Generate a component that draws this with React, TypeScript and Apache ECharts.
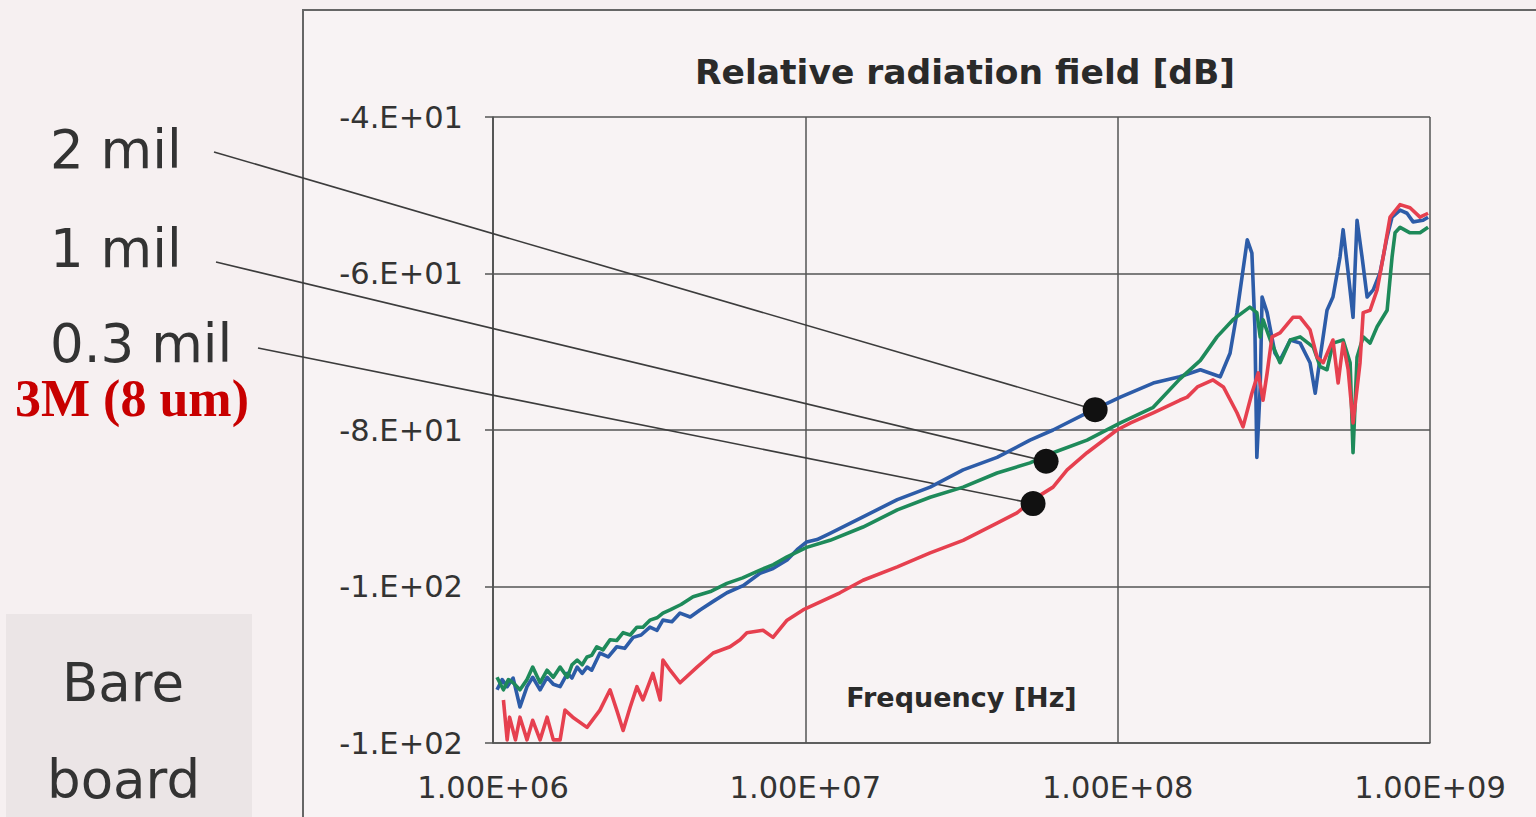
import React, { useEffect, useRef } from "react";
import * as echarts from "echarts";

// Axis ranges
const Y_MIN = -120;
const Y_MAX = -40;
const Y_STEP = 20;
const X_MIN = 1e6;
const X_MAX = 1e9;

const chartTitle = "Relative radiation field [dB]";
const xAxisName = "Frequency [Hz]";

// Measured radiation curves: [frequency Hz, relative field dB]
const twoMil: [number, number][] = [
  [1.03e6, -113.2], [1.07e6, -111.9], [1.11e6, -112.8], [1.16e6, -111.7], [1.22e6, -115.4],
  [1.285e6, -112.8], [1.34e6, -111.6], [1.415e6, -113.2], [1.49e6, -111.6], [1.56e6, -112.5],
  [1.64e6, -112.8], [1.73e6, -111.1], [1.79e6, -111.7], [1.86e6, -110.3], [1.93e6, -111.1],
  [2.0e6, -110.3], [2.07e6, -110.7], [2.2e6, -108.5], [2.34e6, -109.0], [2.49e6, -107.7],
  [2.64e6, -107.9], [2.81e6, -106.5], [2.98e6, -106.2], [3.18e6, -105.2], [3.35e6, -105.6],
  [3.5e6, -104.3], [3.74e6, -104.5], [3.97e6, -103.4], [4.28e6, -103.9], [4.6e6, -103.0],
  [5.07e6, -101.9], [5.61e6, -100.8], [6.32e6, -99.9], [7.16e6, -98.3], [7.88e6, -97.7],
  [8.74e6, -96.6], [9.41e6, -95.3], [1.01e7, -94.3], [1.09e7, -94.0], [1.2e7, -93.2],
  [1.53e7, -91.1], [1.97e7, -88.9], [2.51e7, -87.3], [3.2e7, -85.1], [4.11e7, -83.5],
  [5.24e7, -81.3], [6.21e7, -80.0], [7.98e7, -77.8], [1.02e8, -75.8], [1.3e8, -74.0],
  [1.58e8, -73.2], [1.84e8, -72.3], [2.13e8, -73.2], [2.29e8, -70.2], [2.41e8, -65.0],
  [2.6e8, -55.7], [2.69e8, -57.4], [2.75e8, -66.8], [2.79e8, -83.5], [2.86e8, -74.5],
  [2.9e8, -63.0], [3.01e8, -65.0], [3.19e8, -70.2], [3.31e8, -71.1], [3.57e8, -68.5],
  [3.84e8, -68.9], [4.13e8, -71.4], [4.29e8, -75.3], [4.45e8, -70.7], [4.68e8, -64.7],
  [4.89e8, -63.0], [5.15e8, -57.9], [5.27e8, -54.4], [5.47e8, -59.9], [5.67e8, -65.6],
  [5.84e8, -53.2], [6.06e8, -57.9], [6.29e8, -63.0], [6.58e8, -62.1], [6.92e8, -59.9],
  [7.29e8, -55.3], [7.56e8, -52.8], [8.02e8, -51.9], [8.44e8, -52.3], [8.83e8, -53.4],
  [9.5e8, -53.2], [9.86e8, -52.8],
];

const oneMil: [number, number][] = [
  [1.03e6, -111.6], [1.08e6, -113.2], [1.12e6, -111.9], [1.16e6, -112.3], [1.22e6, -113.2],
  [1.285e6, -111.9], [1.34e6, -110.3], [1.415e6, -112.3], [1.49e6, -110.7], [1.56e6, -111.6],
  [1.64e6, -110.3], [1.73e6, -111.6], [1.79e6, -110.0], [1.86e6, -109.4], [1.93e6, -110.0],
  [2.0e6, -109.0], [2.07e6, -108.8], [2.15e6, -107.7], [2.25e6, -108.1], [2.37e6, -106.8],
  [2.49e6, -106.9], [2.61e6, -105.9], [2.75e6, -106.2], [2.89e6, -105.2], [3.02e6, -105.2],
  [3.18e6, -104.3], [3.35e6, -104.0], [3.5e6, -103.4], [3.69e6, -103.0], [4.0e6, -102.3],
  [4.37e6, -101.3], [5.0e6, -100.6], [5.61e6, -99.6], [6.3e6, -98.9], [7.16e6, -97.9],
  [7.9e6, -97.2], [8.74e6, -96.2], [1.01e7, -95.0], [1.2e7, -94.1], [1.53e7, -92.4],
  [1.97e7, -90.2], [2.51e7, -88.6], [3.2e7, -87.3], [4.11e7, -85.5], [5.24e7, -84.2],
  [6.21e7, -82.9], [7.98e7, -81.3], [1.02e8, -79.1], [1.3e8, -77.1], [1.58e8, -73.5],
  [1.84e8, -71.1], [2.08e8, -68.1], [2.34e8, -65.9], [2.65e8, -64.3], [2.79e8, -65.0],
  [2.86e8, -68.1], [2.92e8, -65.9], [3.08e8, -68.5], [3.31e8, -71.4], [3.57e8, -68.5],
  [3.84e8, -68.1], [4.23e8, -69.4], [4.45e8, -71.9], [4.68e8, -72.3], [4.89e8, -68.9],
  [5.27e8, -68.5], [5.55e8, -71.4], [5.67e8, -82.9], [5.84e8, -70.7], [6.11e8, -68.1],
  [6.43e8, -68.9], [6.77e8, -66.8], [7.29e8, -64.7], [7.56e8, -57.9], [7.73e8, -54.8],
  [8.02e8, -54.1], [8.63e8, -54.8], [9.29e8, -54.8], [9.86e8, -54.1],
];

const pointThreeMil: [number, number][] = [
  [1.08e6, -114.5], [1.11e6, -119.6], [1.13e6, -116.7], [1.18e6, -119.6], [1.22e6, -116.7],
  [1.285e6, -119.6], [1.34e6, -117.1], [1.415e6, -119.6], [1.49e6, -116.7], [1.56e6, -119.6],
  [1.64e6, -119.6], [1.7e6, -115.8], [1.8e6, -116.7], [2.0e6, -118.0], [2.2e6, -115.8],
  [2.37e6, -113.2], [2.49e6, -115.8], [2.61e6, -118.4], [2.75e6, -115.4], [2.89e6, -112.8],
  [3.02e6, -114.5], [3.25e6, -111.1], [3.43e6, -114.5], [3.5e6, -109.4], [3.69e6, -110.7],
  [3.97e6, -112.3], [4.5e6, -110.3], [5.07e6, -108.5], [5.74e6, -107.7], [6.18e6, -106.8],
  [6.5e6, -105.9], [7.32e6, -105.6], [7.88e6, -106.5], [8.74e6, -104.3], [9.83e6, -103.0],
  [1.29e7, -100.8], [1.53e7, -99.2], [1.97e7, -97.5], [2.51e7, -95.7], [3.2e7, -94.1],
  [4.11e7, -91.9], [4.76e7, -90.6], [5.36e7, -88.9], [6.21e7, -87.3], [6.89e7, -85.1],
  [7.98e7, -82.9], [9.95e7, -80.0], [1.1e8, -79.1], [1.3e8, -77.8], [1.58e8, -76.2],
  [1.67e8, -75.8], [1.8e8, -74.5], [2.02e8, -73.6], [2.18e8, -74.5], [2.41e8, -77.8],
  [2.52e8, -79.6], [2.69e8, -75.3], [2.82e8, -72.7], [2.92e8, -76.2], [3.01e8, -72.7],
  [3.12e8, -68.1], [3.31e8, -67.6], [3.64e8, -65.6], [3.84e8, -65.6], [4.13e8, -67.2],
  [4.35e8, -70.7], [4.55e8, -71.4], [4.89e8, -68.5], [5.08e8, -74.0], [5.27e8, -68.9],
  [5.47e8, -72.3], [5.67e8, -79.1], [5.97e8, -71.4], [6.11e8, -65.0], [6.43e8, -64.7],
  [6.77e8, -62.1], [7.08e8, -57.9], [7.45e8, -52.8], [8.02e8, -51.2], [8.63e8, -51.6],
  [9.29e8, -52.8], [9.86e8, -52.3],
];

// Call-out dots on each curve (2 mil, 1 mil, 0.3 mil)
const calloutPoints: [number, number][] = [
  [8.47e7, -77.4],
  [5.9e7, -84.0],
  [5.36e7, -89.4],
];
const calloutLabels = ["2 mil", "1 mil", "0.3 mil"];

const curveColors = ["#2d5ca8", "#1e8a5a", "#e6404f"];

// Layout of the left-hand labels (pixel positions)
const labelPos = [
  { x: 50, y: 149 },
  { x: 50, y: 248 },
  { x: 50, y: 343 },
];
const leaderStart = [
  [214, 152],
  [216, 262],
  [258, 348],
];

const fmtY = (v: number) => {
  const e = Math.floor(Math.log10(Math.abs(v)));
  const m = Math.round(v / Math.pow(10, e));
  return `${m}.E+${String(e).padStart(2, "0")}`;
};
const fmtX = (v: number) => {
  const e = Math.round(Math.log10(v));
  return `${(v / Math.pow(10, e)).toFixed(2)}E+${String(e).padStart(2, "0")}`;
};

const FONT = "DejaVu Sans";
const GRID_COLOR = "#555555";
const TEXT_COLOR = "#333333";

export default function App() {
  const ref = useRef<HTMLDivElement>(null);

  useEffect(() => {
    document.body.style.margin = "0";
    if (!ref.current) return;
    const chart = echarts.init(ref.current, null, { renderer: "svg" });

    const lineSeries = (name: string, data: [number, number][], color: string) => ({
      type: "line",
      name,
      data,
      showSymbol: false,
      symbol: "none",
      clip: true,
      z: 3,
      lineStyle: { width: 3.6, color, join: "round" },
      itemStyle: { color },
    });

    chart.setOption({
      animation: false,
      backgroundColor: "#f6f0f1",
      title: {
        text: chartTitle,
        left: 960,
        top: 49,
        textAlign: "center",
        textStyle: { fontFamily: FONT, fontWeight: "bold", fontSize: 34.5, color: "#2a2a2a" },
      },
      grid: { left: 493, top: 117, width: 937, height: 626, containLabel: false },
      xAxis: {
        type: "log",
        logBase: 10,
        min: X_MIN,
        max: X_MAX,
        name: xAxisName,
        nameLocation: "middle",
        nameGap: -59,
        nameTextStyle: { fontFamily: FONT, fontWeight: "bold", fontSize: 27, color: "#2a2a2a" },
        axisLine: { show: true, lineStyle: { color: GRID_COLOR, width: 1.5 } },
        axisTick: { show: false },
        minorTick: { show: false },
        splitLine: { show: true, lineStyle: { color: GRID_COLOR, width: 1.5 } },
        axisLabel: { formatter: fmtX, fontFamily: FONT, fontSize: 30.5, color: TEXT_COLOR, margin: 29 },
      },
      yAxis: {
        type: "value",
        min: Y_MIN,
        max: Y_MAX,
        interval: Y_STEP,
        axisLine: { show: true, lineStyle: { color: GRID_COLOR, width: 1.5 } },
        axisTick: { show: true, length: 8, lineStyle: { color: GRID_COLOR, width: 1.5 } },
        splitLine: { show: true, lineStyle: { color: GRID_COLOR, width: 1.5 } },
        axisLabel: { formatter: fmtY, fontFamily: FONT, fontSize: 30.5, color: TEXT_COLOR, margin: 30 },
      },
      series: [
        lineSeries(calloutLabels[0], twoMil, curveColors[0]),
        lineSeries(calloutLabels[1], oneMil, curveColors[1]),
        lineSeries(calloutLabels[2], pointThreeMil, curveColors[2]),
        {
          type: "scatter",
          data: calloutPoints,
          symbolSize: 25,
          z: 6,
          itemStyle: { color: "#111111", opacity: 1 },
        },
      ],
    });

    // Leader lines from each label to its call-out dot
    const leaders = calloutPoints.map((p, i) => {
      const end = chart.convertToPixel({ gridIndex: 0 }, p) as number[];
      return {
        type: "line",
        z: 1,
        shape: { x1: leaderStart[i][0], y1: leaderStart[i][1], x2: end[0], y2: end[1] },
        style: { stroke: "#3c3c3c", lineWidth: 1.6 },
      };
    });

    const bigText = (text: string, x: number, y: number) => ({
      type: "text",
      x,
      y,
      z: 2,
      style: {
        text,
        fontFamily: FONT,
        fontSize: 53,
        lineHeight: 44,
        fill: "#333333",
        align: "left",
        verticalAlign: "middle",
      },
    });

    chart.setOption({
      graphic: [
        {
          type: "rect",
          z: -10,
          shape: { x: 303, y: 10, width: 1300, height: 900 },
          style: { fill: "#f8f3f4", stroke: "#666666", lineWidth: 2 },
        },
        {
          type: "rect",
          z: -10,
          shape: { x: 6, y: 614, width: 246, height: 210 },
          style: { fill: "#ebe5e6" },
        },
        ...leaders,
        ...calloutLabels.map((t, i) => bigText(t, labelPos[i].x, labelPos[i].y)),
        {
          type: "text",
          x: 15,
          y: 398,
          z: 2,
          style: {
            text: "3M (8 um)",
            fontFamily: "Liberation Serif",
            fontWeight: "bold",
            fontSize: 52,
            lineHeight: 40,
            fill: "#c80000",
            align: "left",
            verticalAlign: "middle",
          },
        },
        bigText("Bare", 62, 682),
        bigText("board", 47, 779),
      ],
    });

    return () => chart.dispose();
  }, []);

  return <div ref={ref} style={{ width: 1536, height: 817 }} />;
}
